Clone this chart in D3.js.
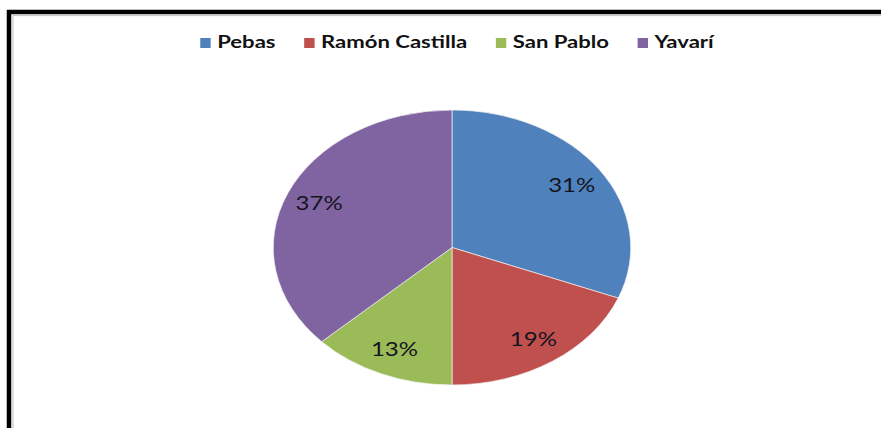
<!DOCTYPE html>
<html>
<head>
<meta charset="utf-8">
<script src="https://cdn.jsdelivr.net/npm/d3@7"></script>
<style>
  html, body { margin: 0; padding: 0; background: #fff; }
  svg { display: block; }
</style>
</head>
<body>
<svg id="chart" width="881" height="428"></svg>
<script>
// Distribution by district
const categories = ["Pebas", "Ramón Castilla", "San Pablo", "Yavarí"];
const values = [31, 19, 13, 37];
const valueLabels = ["31%", "19%", "13%", "37%"];
const colors = ["#4F81BD", "#C0504D", "#9BBB59", "#8064A2"];

const W = 881, H = 428;
const stretchX = 1.3;          // horizontal stretch of the whole drawing
const cx = 452, cy = 247.5, r = 137.5;

const svg = d3.select("#chart");

// frame: heavy black edge with a faint grey inner line
svg.append("rect")
  .attr("x", 9).attr("y", 12).attr("width", W + 20).attr("height", H + 20)
  .attr("fill", "#fff").attr("stroke", "#000").attr("stroke-width", 4.5);
svg.append("rect")
  .attr("x", 13).attr("y", 15.5).attr("width", W + 20).attr("height", H + 20)
  .attr("fill", "none").attr("stroke", "#c8c8c8").attr("stroke-width", 1.2);

const color = d3.scaleOrdinal().domain(categories).range(colors);

const pie = d3.pie().sort(null).value((d, i) => values[i]);
const arcs = pie(categories);

const arc = d3.arc().innerRadius(0).outerRadius(r);
const labelArc = d3.arc().innerRadius(r * 0.81).outerRadius(r * 0.81);

const g = svg.append("g")
  .attr("transform", `translate(${cx},${cy}) scale(${stretchX},1)`);

g.selectAll("path.slice")
  .data(arcs)
  .join("path")
  .attr("class", "slice")
  .attr("d", arc)
  .attr("fill", d => color(d.data))
  .attr("stroke", "#f4f4f4")
  .attr("stroke-width", 0.6);

g.selectAll("text.pct")
  .data(arcs)
  .join("text")
  .attr("class", "pct")
  .attr("transform", d => `translate(${labelArc.centroid(d)})`)
  .attr("text-anchor", "middle")
  .attr("dy", "0.36em")
  .attr("font-family", "Lato, 'Liberation Sans', sans-serif")
  .attr("font-size", 18.5)
  .attr("fill", "#141420")
  .text((d, i) => valueLabels[i]);

// legend, laid out from measured text widths and centred
const legend = svg.append("g");
const inner = legend.append("g").attr("transform", `scale(${stretchX},1)`);
const sq = 8, gapSq = 5, gapItem = 22;
let x = 0;
categories.forEach((c, i) => {
  const it = inner.append("g").attr("transform", `translate(${x},0)`);
  it.append("rect").attr("x", 0).attr("y", -10).attr("width", sq).attr("height", 10)
    .attr("fill", color(c));
  const t = it.append("text").attr("x", sq + gapSq).attr("y", 0)
    .attr("font-family", "Lato, 'Liberation Sans', sans-serif")
    .attr("font-weight", "bold").attr("font-size", 17).attr("fill", "#111")
    .text(c);
  x += sq + gapSq + t.node().getComputedTextLength() + gapItem;
});
const total = (x - gapItem) * stretchX;
legend.attr("transform", `translate(${457 - total / 2},48)`);
</script>
</body>
</html>
